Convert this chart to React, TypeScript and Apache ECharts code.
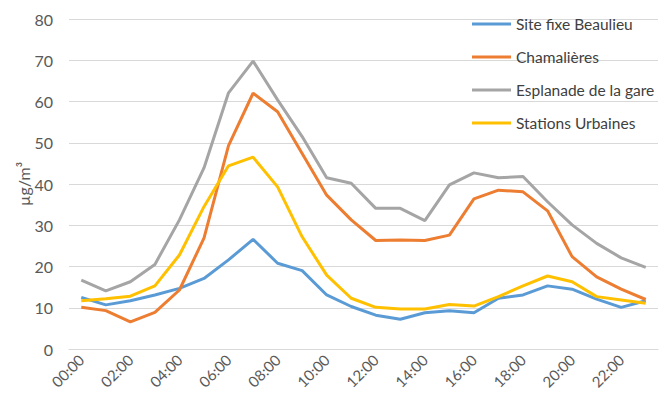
import React, { useEffect, useRef } from "react";
import * as echarts from "echarts";

const hours = [
  "00:00", "01:00", "02:00", "03:00", "04:00", "05:00", "06:00", "07:00",
  "08:00", "09:00", "10:00", "11:00", "12:00", "13:00", "14:00", "15:00",
  "16:00", "17:00", "18:00", "19:00", "20:00", "21:00", "22:00", "23:00",
];

const beaulieu = [12.5, 10.7, 11.7, 13.1, 14.7, 17.1, 21.6, 26.6, 20.8, 19.0, 13.1, 10.3, 8.2, 7.2, 8.8, 9.3, 8.8, 12.3, 13.1, 15.3, 14.5, 12.1, 10.1, 11.7];
const chamalieres = [10.1, 9.3, 6.6, 8.9, 14.3, 26.9, 49.3, 62.0, 57.5, 47.4, 37.3, 31.3, 26.3, 26.4, 26.3, 27.6, 36.4, 38.5, 38.1, 33.5, 22.4, 17.5, 14.5, 12.0];
const esplanade = [16.7, 14.1, 16.3, 20.5, 31.3, 43.9, 62.1, 69.8, 60.4, 51.5, 41.5, 40.2, 34.1, 34.1, 31.1, 39.8, 42.7, 41.5, 41.8, 35.7, 30.1, 25.6, 22.1, 19.8];
const urbaines = [11.7, 12.2, 12.8, 15.3, 22.8, 34.5, 44.4, 46.5, 39.3, 27.2, 17.9, 12.3, 10.1, 9.7, 9.7, 10.8, 10.4, 12.7, 15.3, 17.7, 16.3, 12.7, 11.9, 11.1];

const seriesNames = ["Site fixe Beaulieu", "Chamalières", "Esplanade de la gare", "Stations Urbaines"];
const seriesColors = ["#5B9BD5", "#ED7D31", "#A5A5A5", "#FFC000"];
const seriesValues = [beaulieu, chamalieres, esplanade, urbaines];

const FONT = "Lato, 'Open Sans', sans-serif";

export default function App() {
  const ref = useRef<HTMLDivElement>(null);

  useEffect(() => {
    if (!ref.current) return;
    const chart = echarts.init(ref.current, null, { renderer: "svg" });
    chart.setOption({
      animation: false,
      backgroundColor: "#ffffff",
      grid: { left: 69, right: 4, top: 19, bottom: 50, containLabel: false },
      legend: {
        orient: "vertical",
        left: 472,
        top: 16,
        padding: 0,
        icon: "rect",
        itemWidth: 39,
        itemHeight: 3,
        itemGap: 17,
        textStyle: { color: "#404040", fontSize: 15.5, fontFamily: FONT },
        data: seriesNames,
      },
      xAxis: {
        type: "category",
        data: hours,
        boundaryGap: true,
        axisLine: { show: true, lineStyle: { color: "#D9D9D9", width: 1 } },
        axisTick: { show: false },
        axisLabel: {
          color: "#595959",
          fontSize: 15,
          fontFamily: FONT,
          rotate: 45,
          interval: 1,
          margin: 8,
        },
      },
      yAxis: {
        type: "value",
        min: 0,
        max: 80,
        interval: 10,
        name: "µg/m³",
        nameLocation: "middle",
        nameGap: 38,
        nameRotate: 90,
        nameMoveOverlap: false,
        nameTextStyle: { color: "#595959", fontSize: 16, fontFamily: FONT },
        axisLine: { show: false },
        axisTick: { show: false },
        axisLabel: { color: "#595959", fontSize: 16, fontFamily: FONT, margin: 16 },
        splitLine: { lineStyle: { color: "#D9D9D9", width: 1 } },
      },
      series: seriesNames.map((name, i) => ({
        name,
        type: "line",
        data: seriesValues[i],
        symbol: "none",
        color: seriesColors[i],
        lineStyle: { width: 3, color: seriesColors[i] },
      })),
    });
    return () => chart.dispose();
  }, []);

  return (
    <div
      ref={ref}
      style={{ position: "fixed", left: 0, top: 0, width: 662, height: 399 }}
    />
  );
}
